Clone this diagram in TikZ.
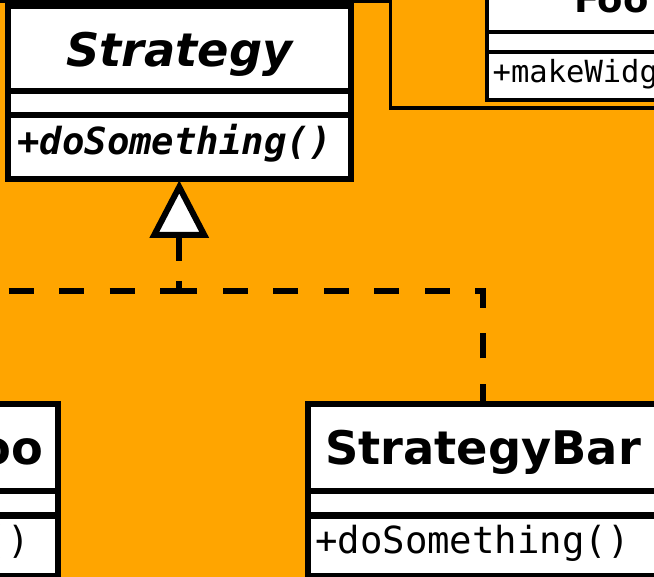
\documentclass[tikz,border=0pt]{standalone}
\usepackage{fontspec}
\newfontfamily\umlsans{DejaVu Sans}[ItalicFont={DejaVu Sans Oblique},BoldFont={DejaVu Sans Bold},BoldItalicFont={DejaVu Sans Bold Oblique}]
\newfontfamily\umlmono{DejaVu Sans Mono}[ItalicFont={DejaVu Sans Mono Oblique},BoldFont={DejaVu Sans Mono Bold},BoldItalicFont={DejaVu Sans Mono Bold Oblique}]
\definecolor{umlorange}{RGB}{255,165,0}
\tikzset{
  classbox/.style={rectangle, draw=black, fill=white, line width=6pt, inner sep=0pt, outer sep=0pt},
  smallbox/.style={classbox, line width=4pt},
  compline/.style={line width=6pt},
  smallcompline/.style={line width=4pt},
  frameline/.style={line width=3.5pt},
  classname/.style={inner sep=0pt, anchor=base, font=\umlsans\bfseries\fontsize{46.3}{55}\selectfont},
  abstractname/.style={classname, font=\umlsans\bfseries\itshape\fontsize{46.3}{55}\selectfont},
  smallname/.style={inner sep=0pt, anchor=base west, font=\umlsans\bfseries\fontsize{37}{44}\selectfont},
  operation/.style={inner sep=0pt, anchor=base west, font=\umlmono\fontsize{37.3}{44}\selectfont},
  abstractop/.style={operation, font=\umlmono\bfseries\itshape\fontsize{37.3}{44}\selectfont},
  smallop/.style={operation, font=\umlmono\fontsize{30.5}{36}\selectfont},
  realizes/.style={line width=6pt, dash pattern=on 25pt off 25.5pt},
  hollowhead/.style={line width=6pt, fill=white, line join=miter},
}
\begin{document}
\begin{tikzpicture}[x=1pt, y=-1pt]
  \useasboundingbox (0,0) rectangle (654,577);
  \clip (0,0) rectangle (654,577);
  \fill[umlorange] (0,0) rectangle (654,577);

  % enclosing frame around the upper part
  \draw[frameline] (-10,1.5) -- (390.5,1.5) -- (390.5,108) -- (700,108);

  % class boxes
  \node[classbox, minimum width=342.5pt, minimum height=173.5pt] (strategy) at (179.25,92.75) {};
  \node[classbox, minimum width=350pt, minimum height=171.5pt] (sbar) at (483,490.25) {};
  \node[classbox, minimum width=350pt, minimum height=171.5pt] (sfoo) at (-117,490.25) {};
  \node[smallbox, minimum width=313pt, minimum height=160pt] (foo) at (643.5,20) {};

  % compartment separators
  \foreach \y in {91.5,115.5}
    \draw[compline] (strategy.west |- 0,\y) -- (strategy.east |- 0,\y);
  \foreach \y in {491,515.5} {
    \draw[compline] (sbar.west |- 0,\y) -- (sbar.east |- 0,\y);
    \draw[compline] (sfoo.west |- 0,\y) -- (sfoo.east |- 0,\y);
  }
  \foreach \y in {32.5,52.5}
    \draw[smallcompline] (foo.west |- 0,\y) -- (foo.east |- 0,\y);

  % class texts
  \node[abstractname] (strategyname) at (179.5,67) {Strategy};
  \node[abstractop] (strategyop) at (17,155) {+doSomething()};
  \node[classname] (sbarname) at (483,465) {StrategyBar};
  \node[operation] (sbarop) at (315,553) {+doSomething()};
  \node[classname] (sfooname) at (-117,465) {StrategyFoo};
  \node[operation] (sfooop) at (-285,553) {+doSomething()};
  \node[smallname] (fooname) at (574,13) {Foo};
  \node[smallop] (fooop) at (492.5,83) {+makeWidget()};

  % realization: dashed lines meeting below Strategy, hollow triangle head
  \coordinate (tip) at (strategy.south |- 0,187);
  \coordinate (headbase) at (strategy.south |- 0,235);
  \coordinate (junction) at (strategy.south |- 0,291);
  \draw[realizes, dash phase=4.5pt] (sbar.north) |- (junction);
  \draw[realizes, dash phase=13.5pt] (sfoo.north) |- (junction);
  \draw[line width=6pt, dash pattern=on 26pt off 20pt] (headbase) -- (junction);
  \draw[hollowhead] (tip) -- ([xshift=-25pt]headbase) -- ([xshift=25pt]headbase) -- cycle;
\end{tikzpicture}
\end{document}
